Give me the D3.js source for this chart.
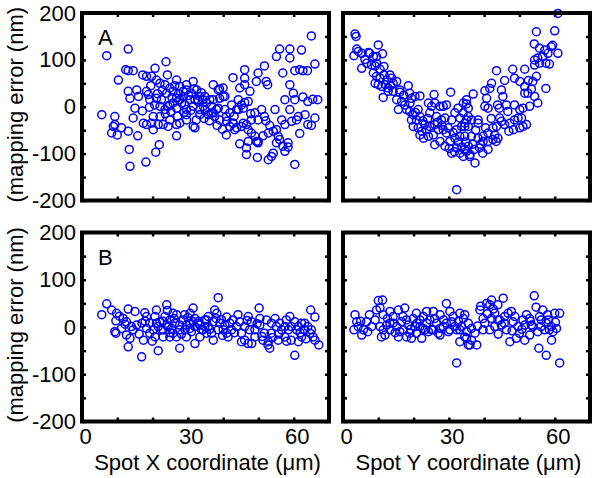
<!DOCTYPE html>
<html><head><meta charset="utf-8">
<script src="https://cdn.jsdelivr.net/npm/d3@7"></script>
<style>body{margin:0;background:#fff}svg{display:block}text{font-family:"Liberation Sans",Arial,sans-serif;fill:#000}</style>
</head><body><svg id="c" width="601" height="478"></svg>
<script>
// Panel A, left: mapping error vs Spot X  [x (µm), error (nm)]
const panelA_spotX = [[7.0,109],[13.1,123],[10.3,57],[12.4,79],[14.5,77],[13.1,77],[5.6,-17],[9.3,-21],[9.3,-38],[8.9,-42],[8.4,-56],[10,-60],[11.2,-45],[13.1,-52],[14.5,-24],[15.8,-62],[13.4,-91],[13.6,-127],[18.1,-118],[20.9,-97],[21.9,-81],[15,-3],[17.1,-9],[19.1,-1],[17.4,-35],[18.3,-38],[19.7,-35],[21.6,-38],[20.2,-49],[23.8,96],[20.7,82],[24.2,68],[26.8,57],[17.2,68],[18.3,65],[19.7,65],[21.1,57],[22.1,50],[13.1,33],[15.5,36],[18.3,33],[13.6,18],[16,22],[18.8,26],[21.1,18],[22.5,15],[23.5,47],[24.9,40],[24,29],[25.8,33],[27.7,43],[29.6,47],[31.5,54],[22.1,1],[23.5,-6],[24.9,4],[26.8,-3],[28.2,8],[29.6,-6],[31.5,1],[32.9,11],[33.4,-6],[24.9,-28],[26.8,-38],[27.7,-35],[29.6,-28],[31.5,-42],[32,-45],[26.8,-62],[23,-38],[24.4,-42],[32.5,36],[33.4,22],[34.3,15],[35.3,8],[30.6,15],[28.7,22],[26.8,18],[28.7,33],[20.2,-21],[22.1,-21],[19.2,15],[20.6,4],[32.9,15],[34.3,1],[34.8,22],[37.2,47],[38.6,36],[37.2,15],[39,18],[40,22],[35.8,-17],[37.2,-13],[38.1,-6],[39,-28],[40.9,-21],[41.9,-42],[42.8,-35],[29.6,36],[31,29],[32,15],[33.4,-17],[29.6,-17],[27.7,15],[25.8,8],[24.4,1],[65,151],[56,123],[58.9,123],[62.2,121],[55.1,107],[58.9,104],[46.1,79],[49.9,72],[51.7,87],[56.9,72],[60.3,77],[61.7,79],[62.6,77],[63.9,77],[66,91],[42.8,62],[46.1,61],[49.4,54],[52.2,54],[52.6,47],[39,38],[40,40],[44.7,40],[46.1,47],[47.6,33],[58.9,47],[59.9,29],[57.5,15],[60.3,15],[62.6,21],[64,11],[65.4,16],[66.8,15],[36.2,15],[40.5,22],[44.3,15],[45.2,4],[46.1,9],[47.1,11],[34.8,-6],[36.7,-13],[37.6,-21],[40.5,-6],[41.9,-13],[43.8,-6],[45.7,-3],[49,-13],[50.9,-6],[48,-28],[49.9,-28],[51.7,-21],[54.7,-6],[56.6,-28],[58.9,-6],[61.3,-21],[63.2,-17],[66,-24],[55.1,-49],[57.5,-38],[59.4,-31],[60.8,-28],[64,-38],[65,-40],[61.7,-57],[40.9,-60],[43.3,-49],[45.2,-42],[46.6,-38],[47.1,-49],[48,-56],[49,-63],[49.9,-74],[51.3,-62],[44.7,-79],[47.1,-74],[46.6,-88],[49.4,-74],[49.9,-77],[46.6,-102],[49.7,-108],[52.8,-113],[53.7,-106],[54.2,-99],[55.1,-77],[56,-70],[56.9,-84],[58.4,-77],[57.5,-95],[58.4,-86],[60.3,-123],[52.8,-56],[54.2,-52],[55.6,-63],[36.7,1],[38.6,-3],[42.4,4],[44.3,-6],[41,-31],[42.8,-35],[43.8,-45],[45.7,-35],[19.5,45],[22.8,35],[25.5,20],[27.3,27],[30.2,24],[31.8,38],[23.6,-15],[25.2,-10],[27.1,-20],[28.9,-12],[30.8,-8],[32.4,-28],[34.6,-25],[36.1,-30],[21.4,28],[26.3,45],[29.1,5],[33.8,30],[38.3,-40],[39.8,-48],[43.1,-20],[47.8,-15],[52.1,-30],[53.2,-40]];

// Panel A, right: mapping error vs Spot Y
const panelA_spotY = [[3.4,155],[3.7,150],[3.1,109],[3.9,123],[4.3,118],[5.3,114],[5.3,82],[6.2,101],[7.2,116],[7.6,114],[8.6,107],[9.5,107],[10,132],[11.2,113],[6.7,93],[8.1,89],[9.1,87],[9.5,93],[10.5,80],[11.6,86],[8.6,72],[9.5,65],[10.5,61],[11.6,68],[12.4,57],[13.3,68],[13.8,61],[9.1,50],[10,47],[11,43],[12,47],[12.8,40],[14.2,50],[15.2,54],[11.4,20],[12.8,33],[14.2,33],[16.1,31],[16.1,36],[18.5,45],[18.9,29],[19.4,18],[20.4,22],[21.8,23],[15.2,15],[16.6,11],[17.5,4],[15.7,-6],[18,-6],[18.9,-10],[19.9,-17],[21.3,-6],[21.8,-21],[20.8,-28],[19.4,-28],[24.2,8],[25.1,1],[26,8],[27.5,1],[28.4,1],[29.3,4],[25.8,26],[30.5,31],[24.6,-13],[26.5,-21],[27.9,-28],[28.9,-24],[30.8,-28],[19.9,-42],[21.3,-45],[22.3,-52],[23.7,-49],[23.2,-38],[24.6,-42],[26,-38],[21.8,-60],[22.8,-67],[24.2,-63],[25.6,-60],[27,-49],[28.4,-49],[29.3,-56],[26,-81],[27.5,-74],[28.9,-84],[30.3,-74],[31.7,-67],[33.1,-63],[32.2,-49],[30.8,-99],[32.2,-88],[33.1,-99],[34.1,-106],[35,-95],[36,-102],[32.2,-177],[32.6,-3],[34.1,-13],[33.1,-24],[31.7,-13],[34.1,8],[35,15],[35.5,-3],[34.5,-35],[33.6,-42],[60.9,199],[54.8,160],[60,162],[59.4,131],[54.2,134],[55.7,125],[57.2,121],[58.1,114],[59,128],[60.9,114],[54.3,100],[55.2,104],[56.6,107],[57.5,93],[58.5,91],[54.3,89],[55.7,93],[43.5,77],[48.1,80],[51.5,80],[45.8,56],[48.6,61],[50.1,54],[52.5,56],[54.8,65],[53.8,54],[51.5,43],[53.4,38],[57.5,39],[42.1,50],[41.6,39],[40.2,34],[36.9,27],[35,6],[40.7,18],[40.2,1],[41.1,-3],[43.8,4],[44.3,-3],[44.9,36],[45.3,22],[46.3,4],[46.7,-10],[48.6,4],[50.1,-6],[51,-3],[52.9,1],[55.2,8],[54.3,22],[52.4,29],[51.5,29],[44.4,-24],[44.9,-31],[45.8,-38],[47.3,-35],[48.6,-28],[49.6,-24],[51,-42],[52,-38],[47,-52],[48.3,-49],[50.1,-45],[50.6,-24],[35.5,-21],[36.4,-28],[38.3,-35],[38.3,-28],[35.5,-42],[36.4,-63],[38.3,-67],[39.7,-63],[41.1,-56],[42.5,-45],[43.5,-42],[43,-60],[39.7,-74],[41.1,-74],[42.5,-70],[43.4,-74],[43.9,-67],[35.5,-84],[37.2,-91],[38.7,-88],[39.6,-99],[41.1,-91],[35.9,-106],[34.5,-91],[37.4,-120],[34.5,-63],[35,-28],[34.5,-42],[13.5,45],[17.2,25],[19,8],[20.5,-12],[22.6,-30],[24,-25],[26.8,-33],[28,-40],[29.8,-45],[31.2,-55],[32.7,-75],[34.8,-75],[36.8,-80],[38.9,-80],[40.4,-45],[42,-25],[37.6,-50],[30.1,-89],[31.6,-96],[33.7,-86]];

// Panel B, left: mapping error vs Spot X (after correction)
const panelB_spotX = [[5.6,26],[7,49],[8.4,36],[9.8,29],[10.6,23],[9.6,13],[11.7,18],[13.1,38],[15,33],[17.8,30],[9.3,-10],[9.6,-13],[11.2,-3],[12.6,11],[14,1],[14.5,-6],[12.6,-17],[13.6,-24],[13.1,-42],[15.5,4],[17,8],[18.3,-3],[17.4,-28],[16.9,-63],[19.2,8],[20.2,-6],[21.6,1],[21.6,-50],[19.2,-13],[24,47],[24.2,35],[23.5,22],[24.9,15],[25.8,29],[26.8,26],[20.7,22],[22.1,11],[23,-6],[24.4,1],[25.8,-13],[26.8,-21],[27.7,-6],[27.7,-45],[28.7,15],[29.6,4],[30.6,-3],[31.5,40],[32,18],[32,-35],[32.9,8],[33.9,-6],[34.8,1],[35.3,15],[33.4,-21],[29.1,26],[30.6,29],[31.5,11],[38.6,62],[37.6,36],[38.2,29],[39.5,16],[41,21],[44.2,26],[47.1,22],[50.2,40],[34.8,15],[35.8,1],[36.7,-13],[37.2,-28],[38.6,-6],[40.5,4],[41.4,-21],[42.4,-6],[43.8,1],[45.2,-13],[46.1,-28],[47.1,-35],[48,11],[49,-6],[50.4,4],[51.7,-13],[53.2,-45],[52.7,-38],[51.3,-28],[54.7,18],[55.1,1],[56.6,-6],[57.5,-21],[58.9,22],[60.3,11],[61.3,1],[62.2,8],[62.2,-21],[59.3,-28],[61.3,-31],[63.1,-6],[64.6,-13],[65.5,-21],[66,-28],[67.1,-38],[60.3,-60],[64.8,36],[66,21],[55.6,-28],[53.6,-13],[57.5,1],[58.5,-6],[35.8,22],[37.2,11],[39.1,8],[40,-6],[41,-13],[42.8,15],[44.7,11],[46.1,1],[47.5,-6],[49,-21],[50.4,18],[52.3,15],[53.7,8],[56,8],[57.9,15],[59.3,1],[60.8,-6],[63.1,8],[64,1],[65,-6],[45.2,-31],[48.1,-35],[52.8,-31],[21.1,8],[22.5,-6],[24,4],[25.4,-3],[26.3,8],[27.7,4],[29.2,-6],[30.6,8],[32,1],[33.4,4],[34.3,-6],[35.3,-13],[29.6,-21],[24.9,-21],[23,-21],[20.7,-21],[21.1,36],[18.3,22],[22.9,12],[25,-12],[26.1,18],[28.2,-15],[30,20],[31,-10],[33,12],[36.2,-5],[38,18],[39.8,-18],[41.9,8],[43.2,-12],[46.8,14],[49.6,7],[51,-20],[54,-22],[55.8,-15],[58,-30],[61.8,-12],[63.5,-25],[17.9,12],[16.2,-15],[19.9,-30],[12.2,6]];

// Panel B, right: mapping error vs Spot Y (after correction)
const panelB_spotY = [[3.4,26],[3.9,11],[3.1,-6],[4.3,1],[5.3,-17],[5.8,-6],[6.7,11],[7.5,26],[8.1,1],[9.1,15],[10,56],[11.2,57],[9.5,36],[10.5,40],[11.4,26],[13.3,33],[14.2,22],[15.7,36],[17.5,40],[10.5,1],[11.4,-6],[12.4,4],[13.3,-6],[11.9,-17],[10.9,-21],[15.7,-21],[17.1,-6],[18.9,-13],[19.4,-24],[22.3,-24],[18,15],[19.9,18],[20.8,29],[23.7,33],[25.6,33],[27.5,26],[29.3,50],[30.3,33],[31.2,22],[33.1,29],[34.1,18],[21.8,1],[23.7,8],[25.1,-6],[27,-13],[28.4,1],[30.3,-6],[32.2,-6],[33.6,1],[35,-10],[34.5,-21],[33.1,-31],[35.5,-38],[36.4,-28],[32.2,-76],[25.6,-6],[27.5,-17],[24.2,-10],[22.7,-3],[36,-38],[37.9,-38],[34.5,26],[35.5,8],[36.4,-3],[37.4,-13],[35,-24],[38.8,36],[39.7,18],[40.7,50],[41.6,47],[42.1,57],[43,29],[43.9,47],[45.4,61],[44.4,15],[46.8,29],[47.7,33],[39.7,-6],[41.6,-6],[43,1],[44.9,4],[46.3,-6],[48.2,11],[49.6,1],[51,15],[52,26],[52.9,18],[47.3,-31],[49.1,-24],[50,-13],[51.5,-28],[52.9,-17],[53.8,1],[55.2,-10],[56.1,1],[57.1,-6],[57.6,8],[58.5,-6],[59,1],[60,29],[54.2,66],[54.7,42],[56.6,36],[55.7,22],[58,26],[55.5,-45],[57.6,-60],[61.4,-76],[59.1,-28],[40.2,8],[42.1,18],[43.9,15],[45.8,22],[48.7,22],[51.5,4],[53.4,4],[14.2,8],[15.2,1],[16.6,11],[18.5,4],[20.4,1],[21.8,15],[23.2,-6],[24.6,15],[26.5,8],[27.5,-3],[29.3,8],[30.8,11],[31.7,1],[33.1,-6],[16.1,-10],[18,-21],[20.8,-13],[13.3,8],[61.4,29],[60.5,-3],[59.5,-10],[5,12],[7,-10],[12.6,18],[14.8,-12],[17,22],[19.2,-5],[21,8],[22.8,22],[26,18],[28.5,15],[29.9,-10],[32.7,12],[38.1,2],[40.9,28],[44,-15],[45.7,8],[47.9,-8],[50.7,-5],[53.1,12],[56.2,15],[58.2,15],[60.2,10],[39,44],[42.6,38]];

const xDomain = [0, 70];
const yDomain = [-200, 200];
const xTicks = [0, 10, 20, 30, 40, 50, 60, 70];
const xTickLabels = [0, 30, 60];
const yTicks = [-200, -150, -100, -50, 0, 50, 100, 150, 200];
const yTickLabels = [-200, -100, 0, 100, 200];
const panelLetters = ["A", "B"];
const yTitle = "(mapping error (nm)";
const xTitles = ["Spot X coordinate (\u03bcm)", "Spot Y coordinate (\u03bcm)"];

const svg = d3.select("#c");
const colX = [[82, 329], [343, 590]];
const rowY = [[200.5, 13], [421.5, 232.5]];
const panels = [
  {data: panelA_spotX, col: 0, row: 0},
  {data: panelA_spotY, col: 1, row: 0},
  {data: panelB_spotX, col: 0, row: 1},
  {data: panelB_spotY, col: 1, row: 1}
];
const blue = "#0000f5";

panels.forEach(p => {
  const x = d3.scaleLinear().domain(xDomain).range(colX[p.col]);
  const y = d3.scaleLinear().domain(yDomain).range(rowY[p.row]);
  const g = svg.append("g");
  const [x0, x1] = x.range(), [y0, y1] = y.range();

  const tickStyle = sel => { sel.select(".domain").remove(); sel.selectAll(".tick line").attr("stroke","#000").attr("stroke-width",2.5); };
  g.append("g").attr("transform",`translate(0,${y0})`)
    .call(d3.axisBottom(x).tickValues(xTicks).tickSize(-4).tickPadding(7)
      .tickFormat(d => (p.row === 1 && xTickLabels.includes(d)) ? d : ""))
    .call(tickStyle)
    .call(s => s.selectAll("text").attr("font-size",22).attr("dx",3).style("font-family",'"Liberation Sans",Arial,sans-serif'));
  g.append("g").attr("transform",`translate(0,${y1})`)
    .call(d3.axisTop(x).tickValues(xTicks).tickSize(-4).tickFormat(""))
    .call(tickStyle);
  g.append("g").attr("transform",`translate(${x0},0)`)
    .call(d3.axisLeft(y).tickValues(yTicks).tickSize(-4).tickPadding(6)
      .tickFormat(d => (p.col === 0 && yTickLabels.includes(d)) ? d : ""))
    .call(tickStyle)
    .call(s => s.selectAll("text").attr("font-size",22).style("font-family",'"Liberation Sans",Arial,sans-serif'));
  g.append("g").attr("transform",`translate(${x1},0)`)
    .call(d3.axisRight(y).tickValues(yTicks).tickSize(-4).tickFormat(""))
    .call(tickStyle);

  g.append("g").selectAll("circle").data(p.data).join("circle")
    .attr("cx", d => x(d[0])).attr("cy", d => y(d[1])).attr("r", 4)
    .attr("fill","none").attr("stroke",blue).attr("stroke-width",1.5);

  g.append("rect").attr("x",x0).attr("y",y1).attr("width",x1-x0).attr("height",y0-y1)
    .attr("fill","none").attr("stroke","#000").attr("stroke-width",4);

  if (p.col === 0) {
    g.append("text").attr("x", x0 + 16).attr("y", y1 + 32).attr("font-size",22).text(panelLetters[p.row]);
    g.append("text").attr("transform",`translate(23,${(y0+y1)/2 - 2}) rotate(-90)`)
      .attr("text-anchor","middle").attr("font-size",22).text(yTitle);
  }
  if (p.row === 1) {
    g.append("text").attr("x",(x0+x1)/2 + 2).attr("y",470).attr("text-anchor","middle")
      .attr("font-size",22).text(xTitles[p.col]);
  }
});
</script></body></html>
